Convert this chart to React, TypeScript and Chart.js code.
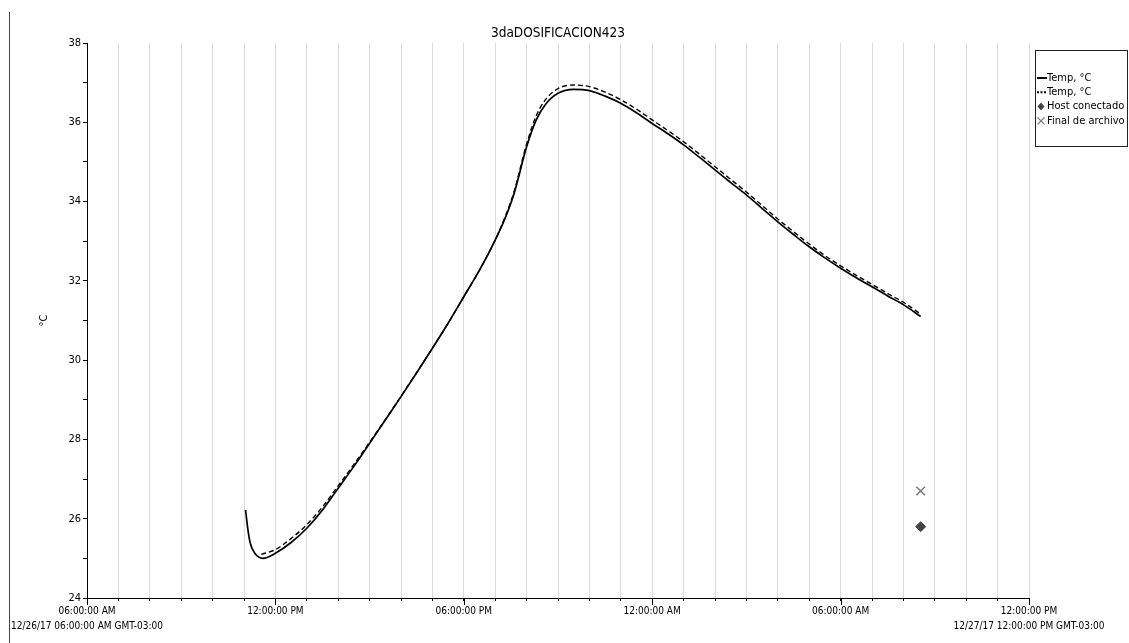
import React, { useEffect, useRef } from 'react';
import { Chart, registerables } from 'chart.js';

Chart.register(...registerables);

// ---- chart text ----
const TITLE = '3daDOSIFICACION423';
const Y_TITLE = '°C';
const START_DATE_LABEL = '12/26/17 06:00:00 AM GMT-03:00';
const END_DATE_LABEL = '12/27/17 12:00:00 PM GMT-03:00';
// labels for every 6th hour, starting at 12/26/17 06:00
const SIX_HOUR_LABELS = ['06:00:00 AM', '12:00:00 PM', '06:00:00 PM', '12:00:00 AM', '06:00:00 AM', '12:00:00 PM'];

// ---- axes (x = hours since 12/26/17 06:00 AM) ----
const X_TICKS = Array.from({ length: 31 }, (_, i) => i);
const Y_TICKS = [24, 25, 26, 27, 28, 29, 30, 31, 32, 33, 34, 35, 36, 37, 38];

// ---- series 1: Temp, °C (solid) ----
const tempSolidHours = [
  5.05, 5.12, 5.2, 5.35, 5.6, 6.0, 6.5, 7.0, 7.5, 8.0, 8.5, 9.0, 9.5, 10.0, 10.5, 11.0, 11.5, 12.0,
  12.5, 13.0, 13.3, 13.6, 14.0, 14.3, 14.6, 15.0, 15.5, 16.0, 16.5, 17.0, 17.5, 18.0, 18.5, 19.0,
  19.5, 20.0, 20.5, 21.0, 21.5, 22.0, 22.5, 23.0, 23.5, 24.0, 24.5, 25.0, 25.5, 26.0, 26.55,
];
const tempSolidValues = [
  26.22, 25.75, 25.38, 25.12, 25.0, 25.13, 25.4, 25.76, 26.22, 26.77, 27.32, 27.9, 28.49, 29.08, 29.68, 30.3, 30.93, 31.6,
  32.27, 33.03, 33.55, 34.2, 35.38, 36.05, 36.45, 36.73, 36.83, 36.8, 36.66, 36.48, 36.24, 35.97, 35.71, 35.43,
  35.12, 34.8, 34.48, 34.17, 33.83, 33.49, 33.17, 32.86, 32.58, 32.32, 32.08, 31.85, 31.62, 31.4, 31.1,
];

// ---- series 2: Temp, °C (dashed) ----
const tempDashedHours = [
  5.55, 6.0, 6.5, 7.0, 7.5, 8.0, 8.5, 9.0, 9.5, 10.0, 10.5, 11.0, 11.5, 12.0,
  12.5, 13.0, 13.3, 13.6, 14.0, 14.3, 14.6, 15.0, 15.5, 16.0, 16.5, 17.0, 17.5, 18.0, 18.5, 19.0,
  19.5, 20.0, 20.5, 21.0, 21.5, 22.0, 22.5, 23.0, 23.5, 24.0, 24.5, 25.0, 25.5, 26.0, 26.55,
];
const tempDashedValues = [
  25.1, 25.22, 25.5, 25.85, 26.3, 26.83, 27.37, 27.93, 28.5, 29.09, 29.69, 30.3, 30.93, 31.6,
  32.27, 33.03, 33.58, 34.25, 35.45, 36.15, 36.57, 36.85, 36.94, 36.9, 36.76, 36.57, 36.33, 36.06, 35.79, 35.51,
  35.2, 34.88, 34.56, 34.24, 33.9, 33.56, 33.24, 32.93, 32.64, 32.38, 32.14, 31.91, 31.68, 31.46, 31.16,
];

// ---- event markers ----
const hostHours = [26.55];
const hostValues = [25.8];
const endOfFileHours = [26.55];
const endOfFileValues = [26.7];

const FONT = '"Liberation Sans Narrow", "Arial Narrow", "DejaVu Sans Condensed", "Liberation Sans", sans-serif';

const toPoints = (xs: number[], ys: number[]) => xs.map((x, i) => ({ x, y: ys[i] }));

// title centred over the plot area
const plotTitle = {
  id: 'plotTitle',
  afterDraw(chart: any) {
    const { ctx, chartArea } = chart;
    ctx.save();
    ctx.font = `13.5px ${FONT}`;
    ctx.fillStyle = '#000';
    ctx.textAlign = 'center';
    ctx.textBaseline = 'middle';
    ctx.fillText(TITLE, (chartArea.left + chartArea.right) / 2, chartArea.top - 10);
    ctx.restore();
  },
};

// longer tick marks every 6 hours on the time axis
const majorTicks = {
  id: 'majorTicks',
  afterDraw(chart: any) {
    const { ctx } = chart;
    const xs = chart.scales.x;
    const bottom = chart.chartArea.bottom;
    ctx.save();
    ctx.strokeStyle = '#000';
    ctx.lineWidth = 1;
    for (const h of X_TICKS) {
      if (h % 6 !== 0) continue;
      const px = Math.round(xs.getPixelForValue(h)) + 0.5;
      ctx.beginPath();
      ctx.moveTo(px, bottom);
      ctx.lineTo(px, bottom + 7);
      ctx.stroke();
    }
    ctx.restore();
  },
};

// boxed legend to the right of the plot
const boxLegend = {
  id: 'boxLegend',
  afterDraw(chart: any) {
    const { ctx } = chart;
    const left = chart.chartArea.right + 6;
    const top = 50;
    const right = chart.width - 1;
    const bottom = 146;
    ctx.save();
    ctx.strokeStyle = '#222';
    ctx.lineWidth = 1;
    ctx.strokeRect(left + 0.5, top + 0.5, right - left - 1, bottom - top);
    ctx.font = `11px ${FONT}`;
    ctx.textBaseline = 'middle';
    ctx.fillStyle = '#000';
    chart.data.datasets.forEach((ds: any, i: number) => {
      const y = 78 + i * 14.3;
      const x0 = left + 2;
      let tx = x0;
      if (ds.showLine === false) {
        ctx.save();
        ctx.fillStyle = ds.backgroundColor;
        ctx.strokeStyle = ds.borderColor;
        ctx.lineWidth = 1.3;
        const cx = x0 + 4;
        if (ds.pointStyle === 'rectRot') {
          ctx.beginPath();
          ctx.moveTo(cx, y - 4);
          ctx.lineTo(cx + 3.5, y);
          ctx.lineTo(cx, y + 4);
          ctx.lineTo(cx - 3.5, y);
          ctx.closePath();
          ctx.fill();
        } else {
          ctx.beginPath();
          ctx.moveTo(cx - 3.5, y - 3.5);
          ctx.lineTo(cx + 3.5, y + 3.5);
          ctx.moveTo(cx + 3.5, y - 3.5);
          ctx.lineTo(cx - 3.5, y + 3.5);
          ctx.stroke();
        }
        ctx.restore();
        tx = x0 + 10;
      } else {
        ctx.save();
        ctx.strokeStyle = ds.borderColor;
        ctx.lineWidth = 2;
        ctx.setLineDash(ds.borderDash && ds.borderDash.length ? [2, 1.5] : []);
        ctx.beginPath();
        ctx.moveTo(x0, y);
        ctx.lineTo(x0 + 10, y);
        ctx.stroke();
        ctx.restore();
        tx = x0 + 10;
      }
      ctx.fillText(ds.label, tx, y);
    });
    ctx.restore();
  },
};

export default function App() {
  const canvasRef = useRef<HTMLCanvasElement | null>(null);

  useEffect(() => {
    const canvas = canvasRef.current;
    if (!canvas) return;
    const chart = new Chart(canvas, {
      type: 'line',
      data: {
        datasets: [
          {
            label: 'Temp, °C',
            data: toPoints(tempSolidHours, tempSolidValues),
            borderColor: '#000',
            backgroundColor: '#000',
            borderWidth: 1.7,
            pointRadius: 0,
            cubicInterpolationMode: 'monotone',
            fill: false,
          },
          {
            label: 'Temp, °C',
            data: toPoints(tempDashedHours, tempDashedValues),
            borderColor: '#000',
            backgroundColor: '#000',
            borderWidth: 1.4,
            borderDash: [5, 3],
            pointRadius: 0,
            cubicInterpolationMode: 'monotone',
            fill: false,
          },
          {
            label: 'Host conectado',
            data: toPoints(hostHours, hostValues),
            showLine: false,
            pointStyle: 'rectRot',
            pointRadius: 5,
            backgroundColor: '#444',
            borderColor: '#444',
            borderWidth: 1,
          },
          {
            label: 'Final de archivo',
            data: toPoints(endOfFileHours, endOfFileValues),
            showLine: false,
            pointStyle: 'crossRot',
            pointRadius: 6,
            backgroundColor: '#777',
            borderColor: '#777',
            borderWidth: 1.5,
          },
        ] as any,
      },
      options: {
        responsive: false,
        maintainAspectRatio: false,
        animation: false,
        events: [],
        layout: { padding: { left: 0, right: 100, top: 43, bottom: 0 } },
        plugins: {
          legend: { display: false },
          tooltip: { enabled: false },
          title: { display: false },
        },
        scales: {
          x: {
            type: 'linear',
            min: X_TICKS[0],
            max: X_TICKS[X_TICKS.length - 1],
            afterBuildTicks: (scale: any) => {
              scale.ticks = X_TICKS.map((value) => ({ value }));
            },
            afterFit: (scale: any) => {
              scale.height = 45;
            },
            grid: { color: '#dadada', lineWidth: 1, tickColor: '#000', tickLength: 3 },
            border: { color: '#000', width: 1 },
            ticks: {
              autoSkip: false,
              maxRotation: 0,
              minRotation: 0,
              padding: 3,
              color: '#000',
              font: { family: FONT, size: 10, lineHeight: 1.5 },
              callback: (v: any) => {
                const h = Number(v);
                if (h % 6 !== 0) return '';
                const lbl = SIX_HOUR_LABELS[h / 6];
                if (h === X_TICKS[0]) return [lbl, START_DATE_LABEL];
                if (h === X_TICKS[X_TICKS.length - 1]) return [lbl, END_DATE_LABEL];
                return lbl;
              },
            },
          },
          y: {
            min: Y_TICKS[0],
            max: Y_TICKS[Y_TICKS.length - 1],
            afterBuildTicks: (scale: any) => {
              scale.ticks = Y_TICKS.map((value) => ({ value }));
            },
            afterFit: (scale: any) => {
              scale.width = 87;
            },
            grid: { drawOnChartArea: false, tickColor: '#000', tickLength: 4 },
            border: { color: '#000', width: 1 },
            title: {
              display: true,
              text: Y_TITLE,
              color: '#000',
              font: { family: FONT, size: 11 },
              padding: { top: 38, bottom: 0 },
            },
            ticks: {
              padding: 2,
              color: '#000',
              font: { family: FONT, size: 11 },
              callback: (v: any) => (Number(v) % 2 === 0 ? String(v) : ''),
            },
          },
        },
      },
      plugins: [plotTitle, majorTicks, boxLegend],
    } as any);
    return () => chart.destroy();
  }, []);

  return (
    <div style={{ position: 'fixed', left: 0, top: 0, width: 1129, height: 643, background: '#fff' }}>
      <div style={{ position: 'absolute', left: 9, top: 12, width: 1, height: 631, background: '#444' }} />
      <canvas ref={canvasRef} width={1129} height={643} style={{ position: 'absolute', left: 0, top: 0 }} />
    </div>
  );
}
